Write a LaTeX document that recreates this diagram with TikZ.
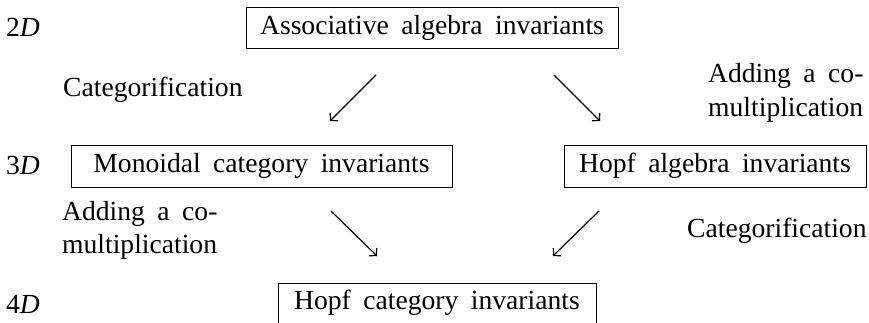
\documentclass[tikz,border=0pt]{standalone}
\usepackage{fontspec}
\setmainfont{Liberation Serif}
\usetikzlibrary{arrows.meta}
\newcommand{\reffont}{\fontsize{27.6}{33}\selectfont\spaceskip=12.5pt\relax}
\begin{document}
\begin{tikzpicture}[x=1pt,y=-1pt,
  every node/.style={font=\reffont},
  box/.style={draw, line width=0.8pt, inner sep=0pt},
  lbl/.style={inner sep=0pt},
  arr/.style={line width=1.2pt, -{Straight Barb[length=5pt,width=11pt,line width=1.2pt]}}]
\useasboundingbox (0,0) rectangle (869,323);
% dimension labels
\node[lbl] (d2) at (23,27) {2\textit{D}};
\node[lbl] (d3) at (23,165) {3\textit{D}};
\node[lbl] (d4) at (23,304) {4\textit{D}};
% boxes
\node[box, minimum width=372pt, minimum height=41pt] (assoc) at (432,27.5) {Associative algebra invariants};
\node[box, minimum width=381pt, minimum height=42pt] (mono) at (261.5,166) {Monoidal category invariants};
\node[box, minimum width=302pt, minimum height=42pt] (hopfa) at (715,166) {Hopf algebra invariants};
\node[box, minimum width=318pt, minimum height=60pt, anchor=north] (hopfc) at (437,283) {};
\node[lbl] (hopfct) at (437,303) {Hopf category invariants};
% edge labels
\node[lbl, anchor=west] (cat1) at (63,90) {Categorification};
\node[lbl, anchor=west] (add1a) at (708,76) {Adding a co-};
\node[lbl, anchor=west] (add1b) at (708,110) {multiplication};
\node[lbl, anchor=west] (add2a) at (62,214) {Adding a co-};
\node[lbl, anchor=west] (add2b) at (62,247) {multiplication};
\node[lbl, anchor=west] (cat2) at (687,231) {Categorification};
% arrow end points
\coordinate (a1s) at (376,75);  \coordinate (a1e) at (330,121);
\coordinate (a2s) at (554,75);  \coordinate (a2e) at (600,121);
\coordinate (a3s) at (331,211); \coordinate (a3e) at (377,256);
\coordinate (a4s) at (599,211); \coordinate (a4e) at (553,256);
\draw[arr] (a1s) -- (a1e);
\draw[arr] (a2s) -- (a2e);
\draw[arr] (a3s) -- (a3e);
\draw[arr] (a4s) -- (a4e);
\end{tikzpicture}
\end{document}
